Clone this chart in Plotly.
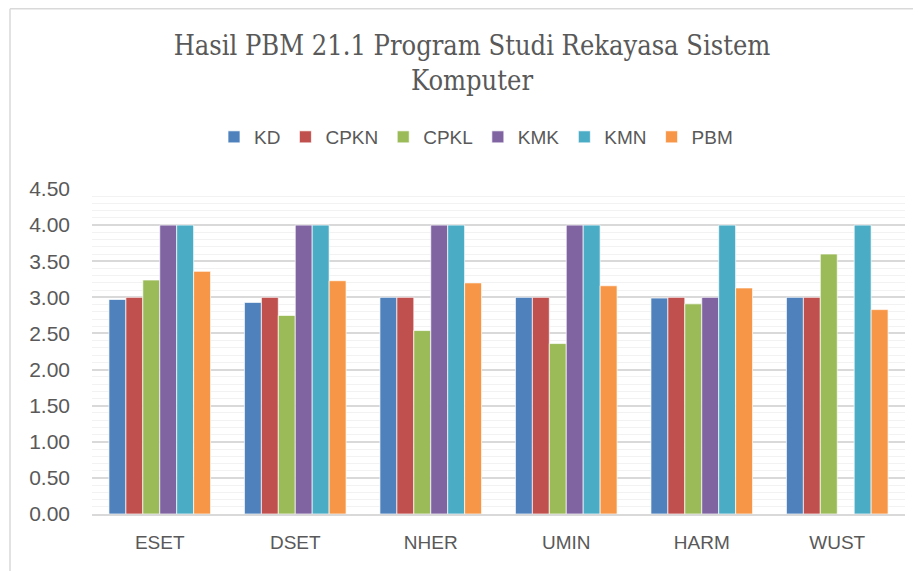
import plotly.graph_objects as go

categories = ["ESET", "DSET", "NHER", "UMIN", "HARM", "WUST"]
series_names = ["KD", "CPKN", "CPKL", "KMK", "KMN", "PBM"]
kd = [2.97, 2.93, 3.00, 3.00, 2.99, 3.00]
cpkn = [3.00, 3.00, 3.00, 3.00, 3.00, 3.00]
cpkl = [3.24, 2.75, 2.54, 2.36, 2.91, 3.60]
kmk = [4.00, 4.00, 4.00, 4.00, 3.00, 0.00]
kmn = [4.00, 4.00, 4.00, 4.00, 4.00, 4.00]
pbm = [3.36, 3.23, 3.20, 3.16, 3.13, 2.83]
colors = ["#4F81BD", "#C0504D", "#9BBB59", "#8064A2", "#4BACC6", "#F79646"]
tick_vals = [0, 0.5, 1.0, 1.5, 2.0, 2.5, 3.0, 3.5, 4.0, 4.5]
tick_text = ["0.00", "0.50", "1.00", "1.50", "2.00", "2.50", "3.00", "3.50", "4.00", "4.50"]

fig = go.Figure()
for name, vals, col in zip(series_names, [kd, cpkn, cpkl, kmk, kmn, pbm], colors):
    fig.add_trace(go.Bar(x=categories, y=vals, name=name, marker=dict(color=col, line=dict(color="white", width=0.7))))

# page has an 8px body margin; figure coords = page coords - 8
OFF = 8
W, H = 921 - OFF, 571 - OFF
ml, mr, mt, mb = 92 - OFF, 16, 189 - OFF, 57
pw, ph = W - ml - mr, H - mt - mb

def px_x(x):
    return (x - OFF - ml) / pw

def px_y(y):
    return (H - mb - (y - OFF)) / ph

fig.add_shape(type="line", xref="paper", yref="paper", x0=px_x(10), x1=px_x(10), y0=px_y(580), y1=px_y(8.7), line=dict(color="#d9d9d9", width=1.5))
fig.add_shape(type="line", xref="paper", yref="paper", x0=px_x(10), x1=px_x(930), y0=px_y(8.7), y1=px_y(8.7), line=dict(color="#d9d9d9", width=1.5))

TXT = "Liberation Sans, sans-serif"
fig.update_layout(
    width=W, height=H,
    margin=dict(l=ml, r=mr, t=mt, b=mb),
    paper_bgcolor="white", plot_bgcolor="white",
    barmode="group", bargap=0.25, bargroupgap=0,
    title=dict(text="Hasil PBM 21.1 Program Studi Rekayasa Sistem<br>Komputer",
               x=(472 - OFF) / W, xanchor="center", y=1 - (55 - OFF) / H, yanchor="middle",
               font=dict(family="DejaVu Serif Condensed, Liberation Serif, serif", size=27, color="#595959")),
    legend=dict(orientation="h", x=(476 - OFF) / W, xanchor="center", xref="container", y=1 - (137 - OFF) / H, yref="container", yanchor="middle",
                font=dict(family=TXT, size=19, color="#595959"), itemwidth=30, traceorder="normal"),
    font=dict(family=TXT, color="#595959"),
    xaxis=dict(showline=True, linecolor="#d9d9d9", linewidth=2, ticks="", tickfont=dict(size=19, color="#595959"), ticklabelstandoff=10),
    yaxis=dict(range=[0, 4.5], tickvals=tick_vals, ticktext=tick_text, showgrid=True, gridcolor="#d9d9d9", gridwidth=1.5,
               zeroline=False, ticks="", tickfont=dict(size=21, color="#595959"), ticklabelstandoff=21,
               minor=dict(dtick=0.1, tick0=0, showgrid=True, gridcolor="#f2f2f2", gridwidth=1)),
)

fig.write_html("out.html")
